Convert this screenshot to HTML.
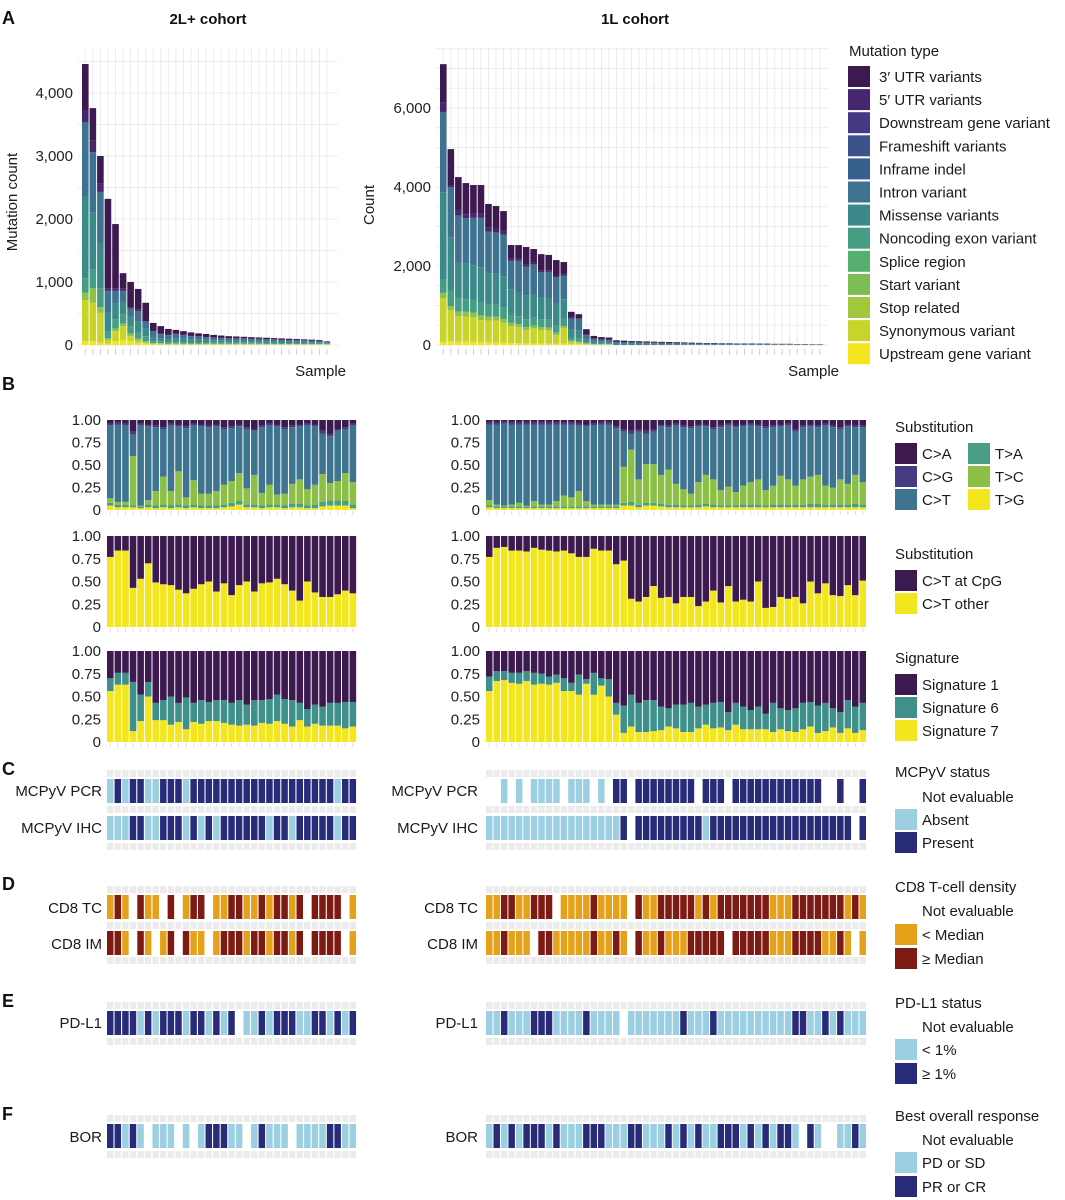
<!DOCTYPE html>
<html><head><meta charset="utf-8">
<style>
html,body{margin:0;padding:0;background:#fff;}
svg{display:block;font-family:"Liberation Sans",Arial,sans-serif;}
.t{font-size:15px;fill:#1a1a1a;}
.tk{font-size:15px;fill:#222;}
.pl{font-size:18px;font-weight:bold;fill:#111;}
.ti{font-size:15px;font-weight:bold;fill:#111;}
</style></head>
<body>
<svg id="fig" width="1065" height="1200" viewBox="0 0 1065 1200" xmlns="http://www.w3.org/2000/svg">
<rect x="0" y="0" width="1065" height="1200" fill="#fff"/>
<text class="pl" x="2" y="24">A</text>
<text class="pl" x="2" y="390">B</text>
<text class="pl" x="2" y="775">C</text>
<text class="pl" x="2" y="890">D</text>
<text class="pl" x="2" y="1007">E</text>
<text class="pl" x="2" y="1120">F</text>
<text class="ti" x="208" y="24" text-anchor="middle">2L+ cohort</text>
<text class="ti" x="635" y="24" text-anchor="middle">1L cohort</text>
<text class="t" transform="translate(17,202) rotate(-90)" text-anchor="middle">Mutation count</text>
<text class="t" transform="translate(374,205) rotate(-90)" text-anchor="middle">Count</text>
<text class="t" x="346" y="376" text-anchor="end">Sample</text>
<text class="t" x="839" y="376" text-anchor="end">Sample</text>
<g id="g"></g>
</svg>
<script>
// ---------- Panel A data ----------
const mutTypes = ["3\u2032 UTR variants","5\u2032 UTR variants","Downstream gene variant","Frameshift variants","Inframe indel","Intron variant","Missense variants","Noncoding exon variant","Splice region","Start variant","Stop related","Synonymous variant","Upstream gene variant"];
const mutColors = ["#3c1a4f","#46266e","#433a83","#3b528b","#355f8d","#3e7290","#3b8a89","#459d84","#55b070","#7cbd55","#a2c63c","#c9d42b","#f3e51e"];
const stackNames = ["upstream","synonymous","stop","noncoding","missense","intron","utr5","utr3"];
const stackColors = ["#f3e51e","#c9d42b","#8fc04a","#459d84","#3b8a89","#3e7290","#46266e","#3c1a4f"];
const upL = [60,60,40,20,60,80,60,30,20,10,5,5,5,5,5,5,5,5,5,5,5,5,5,5,5,5,5,5,5,5,5,5,5];
const synL = [650,610,470,60,160,220,80,40,20,10,15,10,15,10,10,10,10,10,10,10,10,10,10,10,5,5,5,5,5,5,5,5,5];
const stopL = [120,230,90,30,40,40,40,30,20,10,10,5,5,5,5,5,5,5,5,5,5,5,5,5,5,5,5,5,5,5,5,5,5];
const noncL = [230,300,300,100,150,150,120,100,80,30,30,25,25,25,20,20,20,15,15,15,15,15,15,15,15,15,10,10,10,10,10,10,5];
const missL = [1290,900,720,300,250,200,150,170,120,60,50,50,60,55,50,45,45,40,40,35,35,35,30,30,30,30,30,25,25,25,20,20,15];
const intronL = [1190,960,810,350,200,170,130,170,110,100,60,60,60,55,50,45,40,40,35,35,30,30,30,30,30,25,25,25,25,20,20,20,15];
const utr5L = [190,190,140,40,40,40,20,20,10,10,10,10,10,10,10,10,10,5,5,5,5,5,5,5,5,5,5,5,5,5,5,5,5];
const utr3L = [730,510,430,1420,1020,240,400,330,290,120,120,90,60,55,50,45,40,40,35,30,30,25,25,20,20,20,20,20,15,15,15,10,5];
const upR = [75,100,80,80,80,70,70,60,60,50,50,40,40,40,40,30,40,20,20,10,5,5,5,0,0,0,0,0,0,0,0,0,0,0,0,0,0,0,0,0,0,0,0,0,0,0,0,0,0,0,0];
const synR = [1115,780,650,640,620,560,550,560,500,430,400,340,380,340,330,220,380,60,40,20,10,10,10,0,0,0,0,0,0,0,0,0,0,0,0,0,0,0,0,0,0,0,0,0,0,0,0,0,0,0,0];
const stopR = [130,100,120,120,120,120,100,100,100,80,80,70,70,70,70,60,60,30,30,10,5,5,5,0,0,0,0,0,0,0,0,0,0,0,0,0,0,0,0,0,0,0,0,0,0,0,0,0,0,0,0];
const noncR = [330,400,330,320,320,320,300,300,280,200,200,200,200,200,200,180,180,80,70,30,20,15,15,0,0,0,0,0,0,0,0,0,0,0,0,0,0,0,0,0,0,0,0,0,0,0,0,0,0,0,0];
const missR = [2220,1350,900,900,880,900,800,780,800,650,600,600,600,550,550,550,500,200,200,80,50,45,40,40,35,35,30,30,30,25,25,25,20,20,20,15,15,15,15,15,15,15,10,10,10,10,10,10,10,5,5];
const intronR = [2030,1270,1200,1150,1200,1250,1050,1050,1050,720,800,730,750,640,660,680,600,280,300,100,60,55,50,40,40,35,35,30,30,30,25,25,25,20,20,20,20,15,15,15,15,15,15,15,10,10,10,10,10,10,10];
const utr5R = [250,50,150,100,100,100,100,100,100,50,50,50,40,40,40,40,40,20,20,10,10,5,5,0,0,0,0,0,0,0,0,0,0,0,0,0,0,0,0,0,0,0,0,0,0,0,0,0,0,0,0];
const utr3R = [960,910,820,790,730,730,600,570,500,350,350,450,350,420,390,390,300,150,100,140,70,60,60,40,35,30,30,30,25,25,25,20,20,20,15,15,15,15,15,10,10,10,10,10,10,10,10,5,5,5,5];
const ticksAL = [0,1000,2000,3000,4000];
const tickLabelsAL = ["0","1,000","2,000","3,000","4,000"];
const ticksAR = [0,2000,4000,6000];
const tickLabelsAR = ["0","2,000","4,000","6,000"];

// ---------- Panel B data ----------
const subNames = ["C>A","C>G","C>T","T>A","T>C","T>G"];
const subColors = {"C>A":"#3c1a4f","C>G":"#463a80","C>T":"#3f7490","T>A":"#4a9e86","T>C":"#8cbf45","T>G":"#f3e51e"};
const tgL = [.05,.03,.03,.03,.02,.03,.02,.03,.02,.03,.02,.03,.02,.02,.02,.03,.04,.06,.03,.03,.02,.03,.03,.02,.03,.03,.02,.02,.04,.05,.05,.05,.02];
const taL = [.03,.03,.03,.02,.02,.03,.03,.03,.03,.03,.03,.03,.03,.03,.03,.03,.04,.04,.03,.03,.03,.03,.03,.03,.04,.04,.03,.04,.05,.05,.05,.05,.04];
const tcL = [.05,.03,.03,.55,.01,.05,.16,.31,.16,.37,.09,.27,.13,.13,.16,.22,.24,.31,.18,.33,.14,.22,.11,.13,.22,.27,.18,.22,.31,.20,.22,.31,.25];
const cgL = [.02,.02,.02,.03,.02,.02,.02,.02,.02,.02,.02,.02,.02,.02,.02,.02,.02,.02,.02,.02,.02,.02,.02,.02,.02,.02,.02,.02,.03,.03,.02,.02,.02];
const caL = [.04,.03,.04,.13,.04,.05,.06,.08,.04,.05,.07,.04,.05,.06,.05,.08,.07,.05,.08,.10,.06,.04,.05,.08,.06,.05,.04,.05,.12,.15,.10,.08,.04];
const tgR = [.03,.02,.02,.02,.02,.02,.02,.02,.02,.02, .02,.02,.02,.02,.02,.02,.02,.02,.05,.05, .03,.05,.05,.04,.03,.03,.03,.03,.03,.04, .03,.03,.03,.03,.03,.03,.03,.03,.03,.03, .03,.03,.03,.03,.03,.03,.03,.03,.03,.03,.03];
const taR = [.02,.02,.02,.02,.02,.02,.02,.02,.02,.02, .02,.02,.02,.02,.02,.02,.02,.02,.03,.04, .03,.03,.03,.03,.03,.03,.02,.02,.03,.03, .03,.02,.02,.02,.03,.03,.03,.02,.03,.03, .03,.03,.03,.04,.04,.03,.03,.03,.03,.04,.03];
const tcR = [.06,.02,.01,.02,.04,.01,.06,.02,.02,.06, .12,.10,.17,.06,.02,.02,.02,.02,.40,.58, .28,.43,.43,.32,.39,.23,.18,.13,.25,.32, .28,.17,.21,.15,.21,.25,.28,.17,.21,.32, .28,.21,.28,.30,.32,.21,.19,.28,.23,.32,.25];
const cgR = [.02,.02,.02,.02,.02,.02,.02,.02,.02,.02, .02,.02,.02,.02,.02,.02,.02,.02,.03,.03, .03,.03,.03,.02,.02,.02,.02,.02,.02,.02, .02,.02,.02,.02,.02,.02,.02,.02,.02,.02, .02,.03,.02,.02,.02,.02,.02,.02,.02,.02,.02];
const caR = [.03,.03,.02,.03,.03,.03,.03,.03,.03,.03, .03,.03,.04,.05,.04,.03,.03,.07,.10,.12, .10,.12,.10,.05,.06,.04,.06,.07,.05,.05, .08,.06,.04,.06,.05,.04,.05,.07,.06,.05, .04,.10,.06,.05,.06,.04,.06,.08,.05,.06,.06];
const ctOtherL = [.77,.84,.84,.43,.53,.70,.49,.47,.46,.41,.37,.42,.47,.50,.39,.48,.35,.46,.50,.39,.48,.49,.53,.47,.40,.29,.50,.38,.33,.33,.36,.40,.37];
const ctOtherR = [.77,.87,.88,.84,.84,.83,.87,.85,.84,.83, .84,.81,.77,.77,.86,.84,.84,.69,.73,.31, .28,.33,.45,.32,.33,.26,.33,.33,.23,.28, .40,.27,.45,.28,.30,.28,.50,.21,.22,.33, .31,.33,.26,.50,.37,.48,.35,.34,.46,.35,.51];
const sig7L = [.56,.63,.63,.12,.23,.50,.24,.24,.19,.22,.14,.22,.20,.23,.23,.21,.19,.18,.19,.18,.21,.20,.23,.20,.17,.24,.17,.20,.18,.18,.18,.15,.17];
const sig6L = [.14,.13,.13,.54,.29,.16,.19,.22,.31,.21,.35,.21,.26,.21,.23,.25,.24,.28,.22,.28,.25,.27,.29,.27,.29,.19,.19,.21,.21,.25,.25,.29,.27];
const sig7R = [.56,.67,.68,.65,.64,.67,.63,.64,.63,.65, .56,.56,.52,.64,.52,.62,.50,.30,.10,.17, .11,.11,.12,.13,.17,.15,.11,.11,.15,.19, .15,.16,.13,.19,.14,.14,.14,.14,.11,.14, .12,.11,.14,.17,.10,.12,.16,.10,.15,.10,.13];
const sig6R = [.16,.11,.10,.11,.12,.11,.13,.11,.09,.09, .14,.09,.22,.05,.24,.08,.19,.13,.30,.35, .32,.35,.34,.26,.20,.26,.30,.32,.24,.22, .28,.28,.20,.24,.25,.21,.25,.17,.32,.23, .23,.26,.29,.27,.30,.31,.21,.23,.31,.29,.30];
const ticksB = [0,0.25,0.5,0.75,1];
const tickLabelsB = ["0","0.25","0.50","0.75","1.00"];

// ---------- Panels C-F data (N = not evaluable) ----------
const pcrL = "APAPPAAPPPAPPPPPPPPPPPPPPPPPPPAPP";
const ihcL = "AAAPPAAPPPAPAPAPPPPPPAPPAPPPPPAPP";
const pcrR = "NNANANAAAANAAANANPPNPPPPPPPPNPPPNPPPPPPPPPPPPNNPNNP";
const ihcR = "AAAAAAAAAAAAAAAAAAPNPPPPPPPPPAPPPPPPPPPPPPPPPPPPPNP";
const tcTL = "LHLNHLLNHNLHHNLLHHLLHLHHLHNHHHHNL";
const imTL = "HHLNHLNLHNHLLNLHHHLHHLHHLHNHHHHNL";
const tcTR = "LLHHLLHHHNLLLLHLLLLNHLLHHHHHLHLHHHHHHHLLLHHHHHHHLHL";
const imTR = "LLHLLLNHHLLLLLHLLHLNHLLHLLLHHHHHNHHHHHLLLHHHHLLHLNL";
const pdl1L = "PPPPAPAPPPAPPAPAPNAAPAPPPAAPPAPAP";
const pdl1R = "AAPAAAPPPAAAAPAAAANAAAAAAAPAAAPAAAAAAAAAAPPAAPAPAAA";
const borL = "PPAPANAAANANAPPPAANAPAAANAAAAPPAA";
const borR = "APAPAPPPAPAAAPPPAAAPPAAAPAPAPAAPPPAPAPAPPANPANNAAPA";
const blueColors = {A:"#9dcfe2",P:"#272b78"};
const cd8Colors = {L:"#e6a11a",H:"#7e1a14"};

// ---------- helpers ----------
const NS = "http://www.w3.org/2000/svg";
const G = document.getElementById('g');
function mk(tag, attrs){ const e=document.createElementNS(NS,tag); for(const k in attrs) e.setAttribute(k,attrs[k]); G.appendChild(e); return e; }
function txt(x,y,s,anchor,cls){ const e=mk('text',{x:x,y:y,'text-anchor':anchor||'start','class':cls||'t'}); e.textContent=s; return e; }

// axis functions
function yAL(v){ return 345 - v*0.063; }
function yAR(v){ return 345 - v*0.0395; }
function xAL(i){ return 82 + i*7.55; }
function xAR(i){ return 440 + i*7.53; }
const bTop=[420,536,651], bBase=[510,627,742];
function yB(row,v){ return bBase[row] - v*(bBase[row]-bTop[row]); }
function xL(i){ return 107 + i*7.58; }
function xR(i){ return 486 + i*7.47; }

// ---------- Panel A ----------
function panelA(side){
  const L = side==='L';
  const series = L ? [upL,synL,stopL,noncL,missL,intronL,utr5L,utr3L] : [upR,synR,stopR,noncR,missR,intronR,utr5R,utr3R];
  const n = series[0].length;
  const yf = L ? yAL : yAR, xf = L ? xAL : xAR;
  const x0 = L?78:436, x1 = L?338:828, top = 47;
  const step = L?500:1000, maxV = L?4500:7500;
  for(let v=0; v<=maxV; v+=step/ (L?1:2)){
    const gl = mk('line',{x1:x0,x2:x1,y1:yf(v),y2:yf(v),stroke:'#ebebeb','stroke-width':1});
    
    
  }
  for(let i=0;i<n;i++){
    const cx = xf(i)+3.3;
    const gv = mk('line',{x1:cx,x2:cx,y1:top,y2:348,stroke:'#ebebeb','stroke-width':1});
    
    
    const tk = mk('line',{x1:cx,x2:cx,y1:349,y2:355,stroke:'#d0d0d0','stroke-width':1});
    
    
  }
  const ticks = L?ticksAL:ticksAR, labs = L?tickLabelsAL:tickLabelsAR;
  for(let k=0;k<ticks.length;k++){
    const t = txt(L?73:431, yf(ticks[k])+5, labs[k], 'end','tk');
    
    
  }
  for(let i=0;i<n;i++){
    let acc=0;
    for(let s=0;s<series.length;s++){
      const v = series[s][i];
      if(v<=0) continue;
      const r = mk('rect',{x:xf(i),y:yf(acc+v),width:6.6,height:yf(acc)-yf(acc+v),fill:stackColors[s]});
      
      
      acc+=v;
    }
  }
}
panelA('L'); panelA('R');

// legend A
txt(849,56,'Mutation type','start','t');
for(let k=0;k<mutTypes.length;k++){
  const y=66+k*23.1;
  const r=mk('rect',{x:848,y:y,width:22,height:21,fill:mutColors[k]});
  
  
  const t=txt(879,y+16,mutTypes[k]);
  
  
}

// ---------- Panel B ----------
function stackRow(row, side, series, colors, name){
  const n = series[0].length;
  const xf = side==='L'?xL:xR, w = side==='L'?6.6:6.5;
  for(let k=0;k<ticksB.length;k++){
    const t = txt(side==='L'?101:480, yB(row,ticksB[k])+5, tickLabelsB[k], 'end','tk');
    
    
  }
  for(let i=0;i<n;i++){
    let acc=0;
    for(let s=0;s<series.length;s++){
      const v=series[s][i];
      const r=mk('rect',{x:xf(i),y:yB(row,acc+v),width:w,height:Math.max(0,yB(row,acc)-yB(row,acc+v)),fill:colors[s]});
      
      
      acc+=v;
    }
    const tk=mk('line',{x1:xf(i)+3.3,x2:xf(i)+3.3,y1:bBase[row]+1,y2:bBase[row]+5,stroke:'#dcdcdc'});
    
    
  }
}
function rest(arrs){ return arrs[0].map((_,i)=>Math.max(0,1-arrs.reduce((a,b)=>a+b[i],0))); }
const subCols=[subColors["T>G"],subColors["T>A"],subColors["T>C"],subColors["C>T"],subColors["C>G"],subColors["C>A"]];
stackRow(0,'L',[tgL,taL,tcL,rest([tgL,taL,tcL,cgL,caL]),cgL,caL],subCols,'substitution');
stackRow(0,'R',[tgR,taR,tcR,rest([tgR,taR,tcR,cgR,caR]),cgR,caR],subCols,'substitution');
stackRow(1,'L',[ctOtherL,rest([ctOtherL])],["#f3e51e","#3c1a4f"],'cpg');
stackRow(1,'R',[ctOtherR,rest([ctOtherR])],["#f3e51e","#3c1a4f"],'cpg');
stackRow(2,'L',[sig7L,sig6L,rest([sig7L,sig6L])],["#f3e51e","#3f8f8a","#3c1a4f"],'signature');
stackRow(2,'R',[sig7R,sig6R,rest([sig7R,sig6R])],["#f3e51e","#3f8f8a","#3c1a4f"],'signature');

// legends B
function legKey(x,y,color,label,name){
  if(color){ const r=mk('rect',{x:x,y:y,width:22,height:21,fill:color});
    
     }
  const t=txt(x+27,y+16,label);
  
  
}
txt(895,432,'Substitution');
legKey(895,443,subColors["C>A"],'C>A','legend-entry-ca');
legKey(895,466,subColors["C>G"],'C>G','legend-entry-cg');
legKey(895,489,subColors["C>T"],'C>T','legend-entry-ct');
legKey(968,443,subColors["T>A"],'T>A','legend-entry-ta');
legKey(968,466,subColors["T>C"],'T>C','legend-entry-tc');
legKey(968,489,subColors["T>G"],'T>G','legend-entry-tg');
txt(895,559,'Substitution');
legKey(895,570,"#3c1a4f",'C>T at CpG','legend-entry-ct-cpg');
legKey(895,593,"#f3e51e",'C>T other','legend-entry-ct-other');
txt(895,663,'Signature');
legKey(895,674,"#3c1a4f",'Signature 1','legend-entry-sig1');
legKey(895,697,"#3f8f8a",'Signature 6','legend-entry-sig6');
legKey(895,720,"#f3e51e",'Signature 7','legend-entry-sig7');

// ---------- Tiles ----------
function strip(side,y){
  const n = side==='L'?33:51, xf = side==='L'?xL:xR;
  for(let i=0;i<n;i++){
    const r=mk('rect',{x:xf(i),y:y,width:6.4,height:7,fill:'#ebebeb'});
    
    
  }
}
function tileRow(side,codes,y,colors,name){
  const xf = side==='L'?xL:xR;
  for(let i=0;i<codes.length;i++){
    const c=codes[i];
    if(c==='N'){ const r=mk('rect',{x:xf(i),y:y+3,width:6.4,height:18,fill:'#ffffff'});
      
       continue; }
    const r=mk('rect',{x:xf(i),y:y,width:6.5,height:24,fill:colors[c]});
    
    
  }
}
function rowLabel(side,y,s,name){
  const t=txt(side==='L'?102:478,y,s,'end');
  
  
}
// C
['L','R'].forEach(s=>{ strip(s,770); strip(s,806); strip(s,843); strip(s,886); strip(s,922); strip(s,957); strip(s,1002); strip(s,1038); strip(s,1115); strip(s,1151); });
tileRow('L',pcrL,779,blueColors,'mcpyv-pcr'); tileRow('L',ihcL,816,blueColors,'mcpyv-ihc');
tileRow('R',pcrR,779,blueColors,'mcpyv-pcr'); tileRow('R',ihcR,816,blueColors,'mcpyv-ihc');
rowLabel('L',796,'MCPyV PCR','row-label-pcr'); rowLabel('L',833,'MCPyV IHC','row-label-ihc');
rowLabel('R',796,'MCPyV PCR','row-label-pcr'); rowLabel('R',833,'MCPyV IHC','row-label-ihc');
// D
tileRow('L',tcTL,895,cd8Colors,'cd8-tc'); tileRow('L',imTL,931,cd8Colors,'cd8-im');
tileRow('R',tcTR,895,cd8Colors,'cd8-tc'); tileRow('R',imTR,931,cd8Colors,'cd8-im');
rowLabel('L',913,'CD8 TC','row-label-cd8-tc'); rowLabel('L',949,'CD8 IM','row-label-cd8-im');
rowLabel('R',913,'CD8 TC','row-label-cd8-tc'); rowLabel('R',949,'CD8 IM','row-label-cd8-im');
// E
tileRow('L',pdl1L,1011,blueColors,'pd-l1'); tileRow('R',pdl1R,1011,blueColors,'pd-l1');
rowLabel('L',1028,'PD-L1','row-label-pd-l1'); rowLabel('R',1028,'PD-L1','row-label-pd-l1');
// F
tileRow('L',borL,1124,blueColors,'bor'); tileRow('R',borR,1124,blueColors,'bor');
rowLabel('L',1142,'BOR','row-label-bor'); rowLabel('R',1142,'BOR','row-label-bor');

// legends C-F
txt(895,777,'MCPyV status');
legKey(895,786,null,'Not evaluable','legend-entry-mcpyv-na');
legKey(895,809,blueColors.A,'Absent','legend-entry-absent');
legKey(895,832,blueColors.P,'Present','legend-entry-present');
txt(895,892,'CD8 T-cell density');
legKey(895,900,null,'Not evaluable','legend-entry-cd8-na');
legKey(895,924,cd8Colors.L,'< Median','legend-entry-below-median');
legKey(895,948,cd8Colors.H,'\u2265 Median','legend-entry-above-median');
txt(895,1008,'PD-L1 status');
legKey(895,1016,null,'Not evaluable','legend-entry-pdl1-na');
legKey(895,1039,blueColors.A,'< 1%','legend-entry-below-1');
legKey(895,1063,blueColors.P,'\u2265 1%','legend-entry-above-1');
txt(895,1121,'Best overall response');
legKey(895,1129,null,'Not evaluable','legend-entry-bor-na');
legKey(895,1152,blueColors.A,'PD or SD','legend-entry-pd-sd');
legKey(895,1176,blueColors.P,'PR or CR','legend-entry-pr-cr');
</script>
</body></html>
